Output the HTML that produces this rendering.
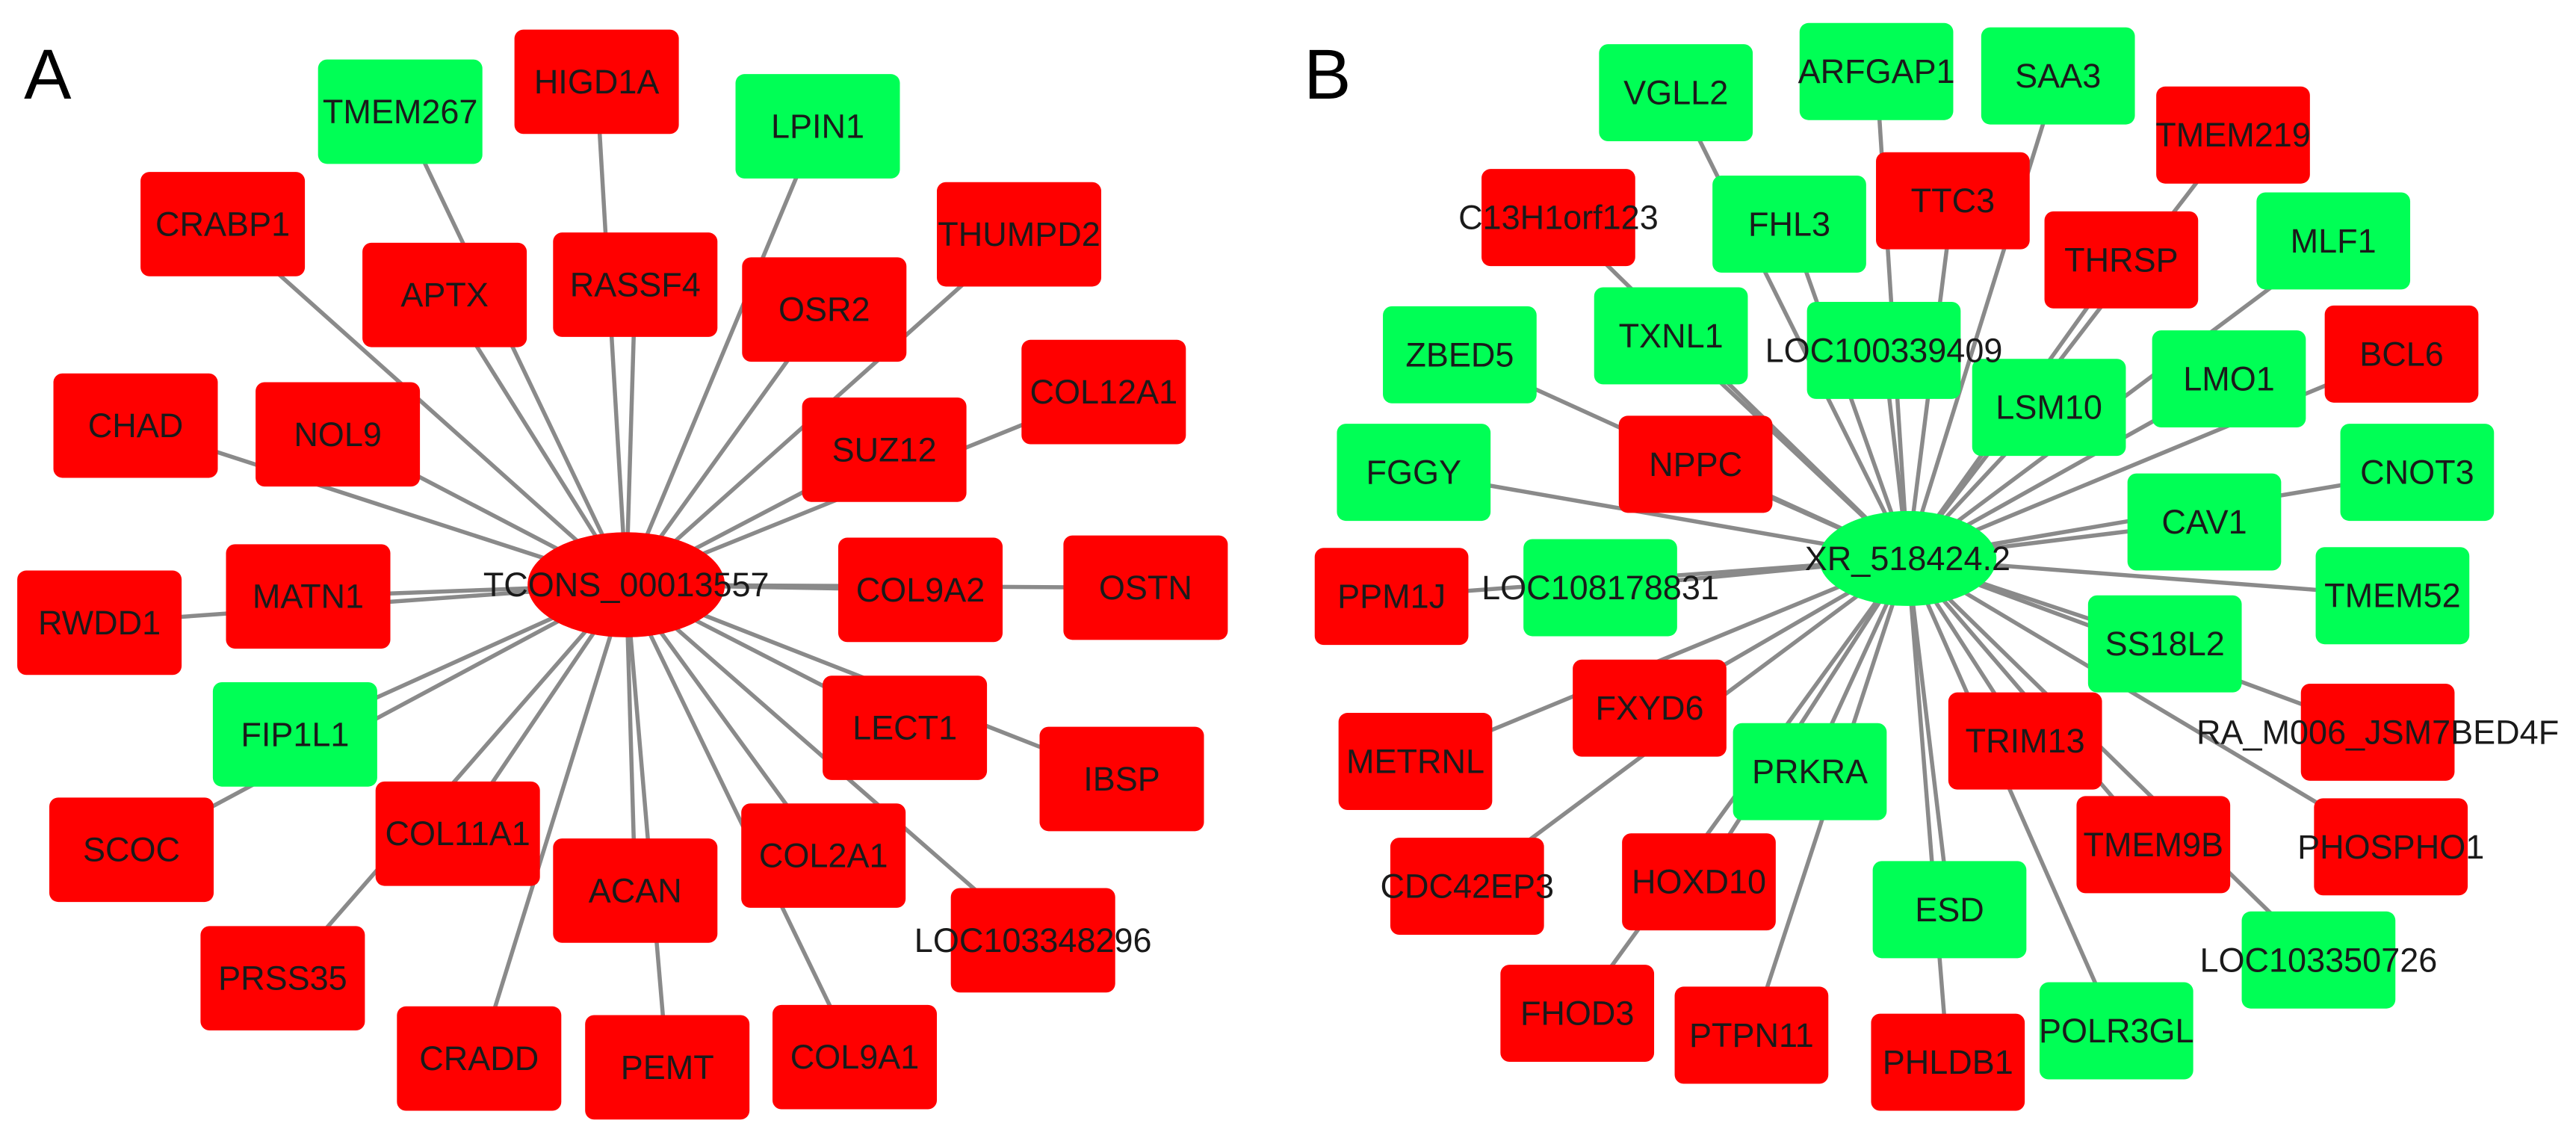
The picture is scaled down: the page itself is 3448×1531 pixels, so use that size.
<!DOCTYPE html>
<html><head><meta charset="utf-8"><style>
html,body{margin:0;padding:0;background:#fff;}
svg{display:block;}
text{font-family:"Liberation Sans",Arial,sans-serif;fill:#1a1a1a;text-anchor:middle;dominant-baseline:central;}
</style></head><body>
<svg width="3448" height="1531" viewBox="0 0 3448 1531" xmlns="http://www.w3.org/2000/svg">
<rect width="3448" height="1531" fill="#fff"/>
<g id="A"></g>
<g id="B" transform="translate(1724,0)"></g>
</svg>
<script>
const R="#ff0000",G="#00ff55",KX=1.1,KY=0.977;
function draw(id,cx,cy,rx,ry,ccol,clabel,letter,lx,nodes,w,h){
  const g=document.getElementById(id);let s="";
  cx*=KX;cy*=KY;rx*=KX;ry*=KY;w*=KX;h*=KY;
  for(const n of nodes){n[1]*=KX;n[2]*=KY;}
  for(const n of nodes){s+=`<line x1="${cx}" y1="${cy}" x2="${n[1]}" y2="${n[2]}" stroke="#8a8a8a" stroke-width="5.5"/>`;}
  s+=`<ellipse cx="${cx}" cy="${cy}" rx="${rx}" ry="${ry}" fill="${ccol}"/>`;
  for(const n of nodes){s+=`<rect x="${n[1]-w/2}" y="${n[2]-h/2}" width="${w}" height="${h}" rx="12" fill="${n[3]}"/>`;}
  for(const n of nodes){s+=`<text x="${n[1]}" y="${n[2]}" font-size="45">${n[0]}</text>`;}
  s+=`<text x="${cx}" y="${cy}" font-size="45">${clabel}</text>`;
  s+=`<text x="${lx*KX}" y="100" font-size="95" style="fill:#000">${letter}</text>`;
  g.innerHTML=s;
}
draw("A",762,801,120,72,R,"TCONS_00013557","A",58,[
["TMEM267",487,153,G],["HIGD1A",726,112,R],["LPIN1",995,173,G],["CRABP1",271,307,R],
["APTX",541,404,R],["RASSF4",773,390,R],["OSR2",1003,424,R],["THUMPD2",1240,321,R],
["COL12A1",1343,537,R],["CHAD",165,583,R],["NOL9",411,595,R],["SUZ12",1076,616,R],
["MATN1",375,817,R],["RWDD1",121,853,R],["COL9A2",1120,808,R],["OSTN",1394,805,R],
["FIP1L1",359,1006,G],["LECT1",1101,997,R],["IBSP",1365,1067,R],["SCOC",160,1164,R],
["COL11A1",557,1142,R],["COL2A1",1002,1172,R],["ACAN",773,1220,R],["LOC103348296",1257,1288,R],
["PRSS35",344,1340,R],["CRADD",583,1450,R],["PEMT",812,1462,R],["COL9A1",1040,1448,R]
],200,143);
draw("B",754,765,108,65,G,"XR_518424.2","B",48,[
["VGLL2",472,127,G],["ARFGAP1",716,98,G],["SAA3",937,104,G],["TMEM219",1150,185,R],
["C13H1orf123",329,298,R],["FHL3",610,307,G],["TTC3",809,275,R],["THRSP",1014,356,R],
["MLF1",1272,330,G],["ZBED5",209,486,G],["TXNL1",466,460,G],["LOC100339409",725,480,G],
["LSM10",926,558,G],["LMO1",1145,519,G],["BCL6",1355,485,R],["FGGY",153,647,G],
["NPPC",496,636,R],["CNOT3",1374,647,G],["CAV1",1115,715,G],["PPM1J",126,817,R],
["LOC108178831",380,805,G],["TMEM52",1344,816,G],["SS18L2",1067,882,G],["FXYD6",440,970,R],
["RA_M006_JSM7BED4F",1326,1003,R],["METRNL",155,1043,R],["PRKRA",635,1057,G],["TRIM13",897,1015,R],
["TMEM9B",1053,1157,R],["PHOSPHO1",1342,1160,R],["CDC42EP3",218,1214,R],["HOXD10",500,1208,R],
["ESD",805,1246,G],["LOC103350726",1254,1315,G],["FHOD3",352,1388,R],["PTPN11",564,1418,R],
["POLR3GL",1008,1412,G],["PHLDB1",803,1455,R]
],187,133);
</script>
</body></html>
